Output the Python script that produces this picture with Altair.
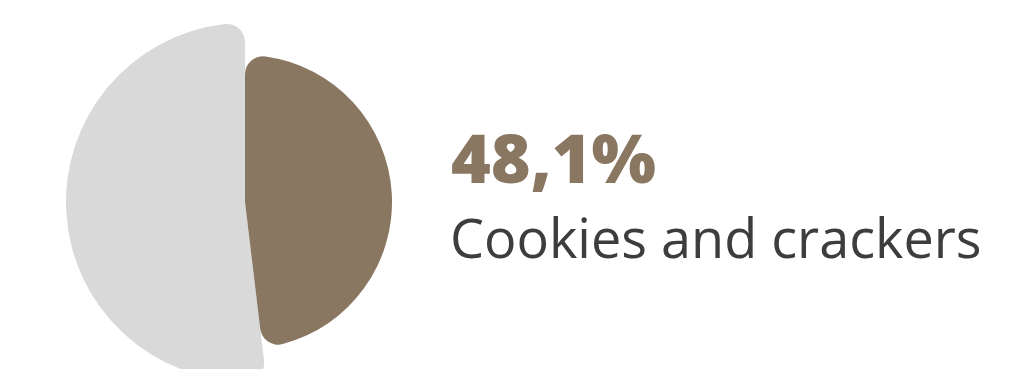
import altair as alt
import pandas as pd
import math

categories = ["Cookies and crackers", "Other"]
shares = [48.1, 51.9]
colors = ["#8a7762", "#d9d9d9"]
headline = "48,1%"
label = "Cookies and crackers"

df = pd.DataFrame({"category": categories, "share": shares, "order": [0, 1]})

base = alt.Chart(df).transform_window(
    end="sum(share)", sort=[alt.SortField("order")], frame=[None, 0]
).transform_calculate(start="datum.end - datum.share")

theta_scale = alt.Scale(domain=[0, 100], range=[0, 2 * math.pi])

def slice_layer(cat, radius):
    return base.transform_filter(alt.datum.category == cat).mark_arc(
        cornerRadius=18, outerRadius=radius
    ).encode(
        theta=alt.Theta("start:Q", scale=theta_scale),
        theta2="end:Q",
        color=alt.Color("category:N", scale=alt.Scale(domain=categories, range=colors), legend=None),
        x=alt.value(245),
        y=alt.value(202),
    )

pie = alt.layer(slice_layer(categories[1], 179), slice_layer(categories[0], 147))

tdf = pd.DataFrame({"headline": [headline], "label": [label]})

t1 = alt.Chart(tdf).mark_text(
    align="left", baseline="alphabetic", font="Open Sans", fontWeight=800, fontSize=68, color="#8a7762"
).encode(text="headline:N", x=alt.value(451), y=alt.value(183))

t2 = alt.Chart(tdf).mark_text(
    align="left", baseline="alphabetic", font="Open Sans", fontWeight=400, fontSize=54, color="#3d3d3d"
).encode(text="label:N", x=alt.value(450), y=alt.value(258))

chart = alt.layer(pie, t1, t2).properties(
    width=1027, height=369, autosize=alt.AutoSizeParams(type="none"), padding=0
).configure_view(stroke=None)

chart.save("out.html", embed_options={"renderer": "svg", "actions": False})
